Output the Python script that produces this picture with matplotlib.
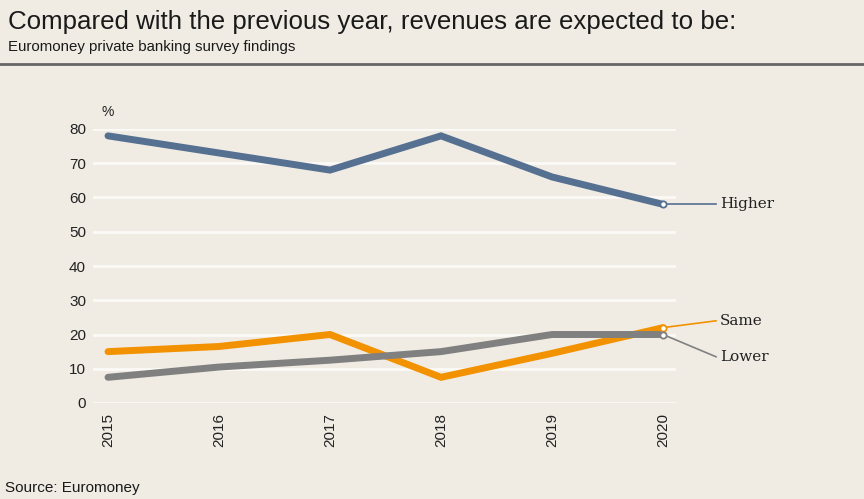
import matplotlib
matplotlib.use("Agg")
import matplotlib.pyplot as plt
from matplotlib import font_manager

years = ["2015", "2016", "2017", "2018", "2019", "2020"]
higher = [78, 73, 68, 78, 66, 58]
same = [15, 16.5, 20, 7.5, 14.5, 22]
lower = [7.5, 10.5, 12.5, 15, 20, 20]
yticks = [0, 10, 20, 30, 40, 50, 60, 70, 80]

names = {f.name for f in font_manager.fontManager.ttflist}
narrow = "Liberation Sans Narrow" if "Liberation Sans Narrow" in names else "Liberation Sans"

BG = "#f0ece4"
BLUE = "#557091"
ORANGE = "#f39200"
GRAY = "#808080"

fig = plt.figure(figsize=(8.64, 4.99), dpi=100, facecolor=BG)
W, H = 864, 499
ax = fig.add_axes([93 / W, (H - 403) / H, (676 - 93) / W, (403 - 129) / H])
ax.set_facecolor(BG)
x = list(range(len(years)))
ax.set_xlim(-15 / 111, 5 + 13 / 111)
ax.set_ylim(0, 80)
ax.set_yticks(yticks)
ax.set_xticks(x)
ax.set_xticklabels(years, rotation=90, fontsize=11, family="Liberation Sans", color="#222222")
ax.set_yticklabels([str(v) for v in yticks], fontsize=11, family="Liberation Sans", color="#222222")
ax.tick_params(length=0)
ax.tick_params(axis="y", pad=5)
ax.tick_params(axis="x", pad=7)
for s in ax.spines.values():
    s.set_visible(False)
ax.grid(axis="y", color="#fbfaf7", linewidth=2)
ax.set_axisbelow(True)

for vals, col, lab, ty in [(higher, BLUE, "Higher", 58),
                           (same, ORANGE, "Same", 24.0),
                           (lower, GRAY, "Lower", 13.5)]:
    ax.plot(x, vals, color=col, linewidth=5, solid_capstyle="round",
            solid_joinstyle="miter", clip_on=False, zorder=3)
    ax.plot([x[-1], 5 + 53 / 111], [vals[-1], ty], color=col, linewidth=1.2,
            clip_on=False, zorder=2)
    ax.plot([x[-1]], [vals[-1]], marker="o", markersize=4.5, markerfacecolor="white",
            markeredgecolor=col, markeredgewidth=1.3, clip_on=False, zorder=4)
    ax.text(5 + 57 / 111, ty, lab, fontsize=11, family="DejaVu Serif",
            color="#222222", va="center", ha="left")

ax.text(0, 85, "%", fontsize=10, family="Liberation Sans", ha="center", va="center",
        color="#222222")

fig.text(8 / W, 1 - 22 / H, "Compared with the previous year, revenues are expected to be:",
         fontsize=18.6, family=narrow, color="#1a1a1a", va="center", ha="left")
fig.text(8 / W, 1 - 47 / H, "Euromoney private banking survey findings",
         fontsize=10.8, family=narrow, color="#1a1a1a", va="center", ha="left")
fig.add_artist(plt.Line2D([0, 1], [1 - 64 / H, 1 - 64 / H], color="#666666", linewidth=2,
                          transform=fig.transFigure))
fig.text(5 / W, 1 - 488 / H, "Source: Euromoney", fontsize=11, family=narrow,
         color="#1a1a1a", va="center", ha="left")

fig.savefig("out.png", dpi=100, facecolor=BG)
